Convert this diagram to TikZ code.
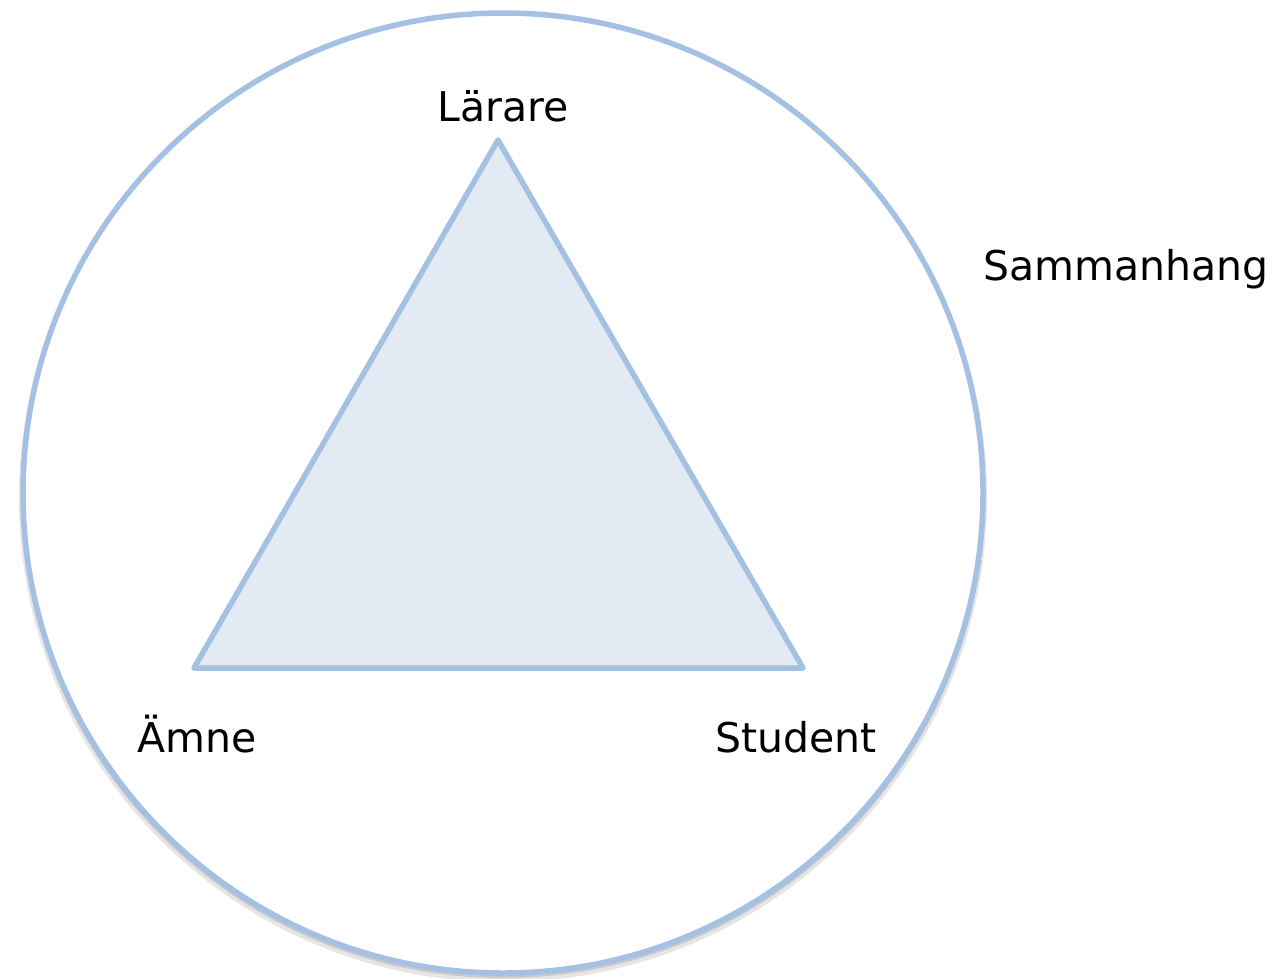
\documentclass[tikz,border=0pt]{standalone}
\usepackage{fontspec}
\setmainfont{DejaVu Sans}
\usetikzlibrary{positioning}

\definecolor{rimblue}{HTML}{A4C0E2}
\definecolor{fillblue}{HTML}{E2EAF4}

\tikzset{
  rim/.style={draw=rimblue, line width=5.5pt, line join=round},
  label/.style={font=\fontsize{41}{48}\selectfont, anchor=base, inner sep=0pt}
}

\begin{document}
\begin{tikzpicture}[x=1pt, y=-1pt]
\useasboundingbox (0,0) rectangle (1273,978);

% context circle with a soft shadow
\fill[black, opacity=0.10] (503,498) circle (484);
\fill[black, opacity=0.12] (503,496) circle (482);
\draw[rim, fill=white] (503,493) circle (480);

% triangle corners
\coordinate (teacher) at (498,140);
\coordinate (subject) at (194,668);
\coordinate (student) at (803,668);
\draw[rim, fill=fillblue] (teacher) -- (subject) -- (student) -- cycle;

\node[label] (lararetext) at (503,121) {Lärare};
\node[label] (amnetext) at (197,752) {Ämne};
\node[label] (studenttext) at (796,752) {Student};
\node[label] (sammanhangtext) at (1126,280) {Sammanhang};
\end{tikzpicture}
\end{document}
